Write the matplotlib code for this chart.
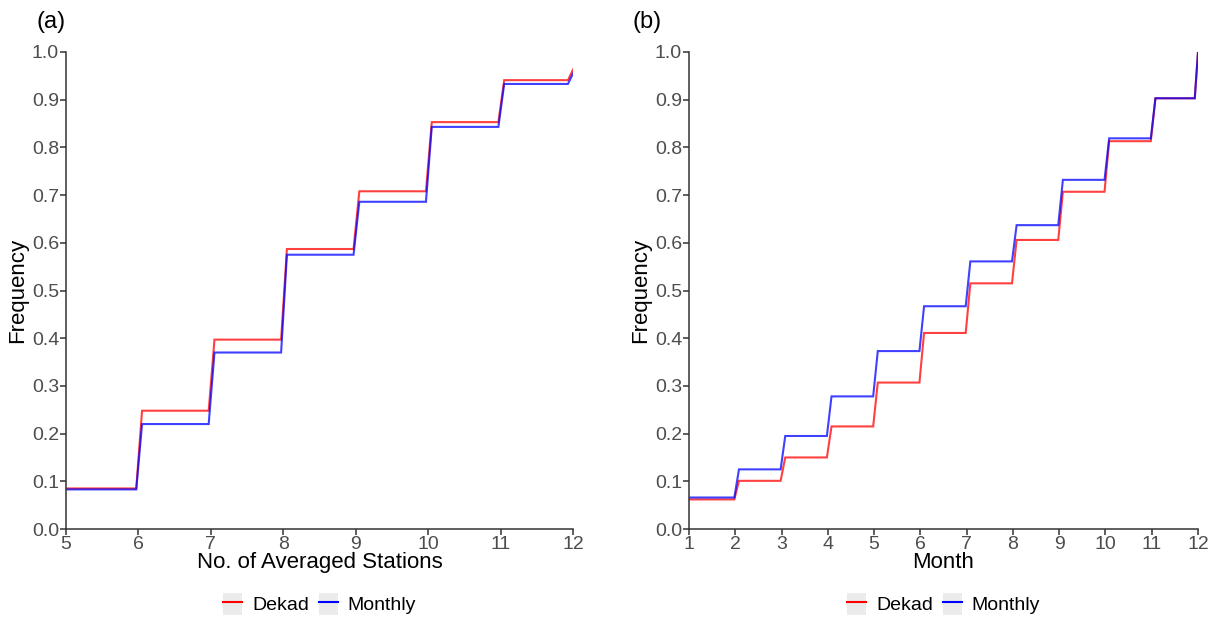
import matplotlib
matplotlib.use("Agg")
import matplotlib.pyplot as plt
from matplotlib.lines import Line2D
from matplotlib.patches import Patch

plt.rcParams['font.family'] = ['Liberation Sans', 'DejaVu Sans']

# panel (a): cumulative frequency by number of averaged stations
stations = [5, 6, 7, 8, 9, 10, 11, 12]
stations_dekad = [0.085, 0.248, 0.397, 0.587, 0.708, 0.853, 0.941, 0.963]
stations_monthly = [0.083, 0.220, 0.370, 0.575, 0.686, 0.843, 0.933, 0.955]

# panel (b): cumulative frequency by month
months = [1, 2, 3, 4, 5, 6, 7, 8, 9, 10, 11, 12]
month_dekad = [0.062, 0.101, 0.150, 0.215, 0.307, 0.411, 0.515, 0.606, 0.707, 0.813, 0.903, 1.0]
month_monthly = [0.066, 0.125, 0.195, 0.278, 0.373, 0.467, 0.561, 0.637, 0.732, 0.819, 0.903, 1.0]

RED = '#FF0000'
BLUE = '#0000FF'
TICK_GREY = '#4D4D4D'
W, H = 1219, 617


def step_xy(x, y, before, after):
    # steps rise over a short ramp around each integer, like the original
    xs = [x[0]]
    ys = [y[0]]
    for i in range(1, len(x)):
        if i == len(x) - 1:
            xs += [x[i] - 0.07, x[i]]
        else:
            xs += [x[i] - before, x[i] + after]
        ys += [y[i - 1], y[i]]
    return xs, ys


def draw_panel(ax, x, dekad, monthly, xlabel, before, after):
    for vals, col in ((dekad, RED), (monthly, BLUE)):
        xs, ys = step_xy(x, vals, before, after)
        ax.plot(xs, ys, color=col, lw=1.5, alpha=0.75, solid_joinstyle='miter')
    ax.set_xlim(x[0], x[-1])
    ax.set_ylim(0, 1.0)
    ax.set_xticks(x)
    ax.set_yticks([i / 10 for i in range(11)])
    ax.set_yticklabels(['%.1f' % (i / 10) for i in range(11)])
    for s in ('top', 'right'):
        ax.spines[s].set_visible(False)
    for s in ('left', 'bottom'):
        ax.spines[s].set_color('#333333')
        ax.spines[s].set_linewidth(1.1)
    ax.tick_params(colors='#333333', labelcolor=TICK_GREY, labelsize=14,
                   length=4, width=1.1, pad=1)
    ax.set_xlabel(xlabel, fontsize=16, labelpad=-1)
    ax.set_ylabel('Frequency', fontsize=16, labelpad=3)
    handles = [(Patch(facecolor='#EBEBEB', edgecolor='none'), Line2D([], [], color=RED, lw=1.5)),
               (Patch(facecolor='#EBEBEB', edgecolor='none'), Line2D([], [], color=BLUE, lw=1.5))]
    ax.legend(handles, ['Dekad', 'Monthly'], loc='upper center', bbox_to_anchor=(0.5, -0.097),
              ncol=2, frameon=False, fontsize=14, handlelength=1.0, handleheight=1.4,
              handletextpad=0.5, columnspacing=0.5)


fig = plt.figure(figsize=(W / 100, H / 100), dpi=100)
ax1 = fig.add_axes([66 / W, 1 - 529 / H, 507 / W, 477 / H])
ax2 = fig.add_axes([689 / W, 1 - 529 / H, 509 / W, 477 / H])

draw_panel(ax1, stations, stations_dekad, stations_monthly, 'No. of Averaged Stations', 0.03, 0.05)
draw_panel(ax2, months, month_dekad, month_monthly, 'Month', 0.02, 0.08)

fig.text(36 / W, 1 - 11 / H, '(a)', fontsize=17, ha='left', va='top')
fig.text(633 / W, 1 - 11 / H, '(b)', fontsize=17, ha='left', va='top')

fig.savefig('out.png', dpi=100)
